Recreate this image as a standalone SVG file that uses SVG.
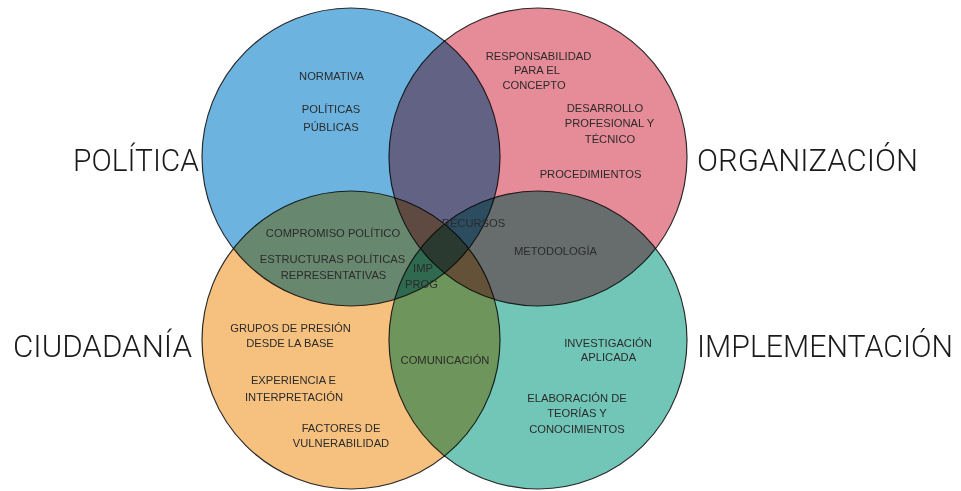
<svg xmlns="http://www.w3.org/2000/svg" width="961" height="491" viewBox="0 0 961 491">
  <style>
    .set { stroke: #2a2a2a; stroke-width: 1.2; mix-blend-mode: multiply; }
    .big { font-family: Roboto, "Liberation Sans", Arial, sans-serif; font-weight: 300; font-size: 31px; fill: #1a1a1a; }
    .item { font-family: "Liberation Sans", Arial, sans-serif; font-size: 11.2px; fill: #2b2b2b; text-anchor: middle; }
  </style>
  <rect width="961" height="491" fill="#ffffff"/>

  <!-- Política -->
  <g id="politica">
    <circle class="set" cx="351" cy="157" r="149" fill="#6cb3df"/>
    <text class="big" x="73" y="171" textLength="126" lengthAdjust="spacingAndGlyphs">POLÍTICA</text>
    <text class="item" x="331.5" y="80">NORMATIVA</text>
    <text class="item" x="331" y="113">POLÍTICAS</text>
    <text class="item" x="331" y="131">PÚBLICAS</text>
  </g>

  <!-- Organización -->
  <g id="organizacion">
    <circle class="set" cx="538" cy="157" r="149" fill="#e68b98"/>
    <text class="big" x="697" y="171" textLength="221" lengthAdjust="spacingAndGlyphs">ORGANIZACIÓN</text>
    <text class="item" x="538.5" y="60">RESPONSABILIDAD</text>
    <text class="item" x="537" y="74">PARA EL</text>
    <text class="item" x="534" y="89">CONCEPTO</text>
    <text class="item" x="605" y="112">DESARROLLO</text>
    <text class="item" x="609.5" y="127">PROFESIONAL Y</text>
    <text class="item" x="610" y="143">TÉCNICO</text>
    <text class="item" x="590.5" y="178">PROCEDIMIENTOS</text>
  </g>

  <!-- Ciudadanía -->
  <g id="ciudadania">
    <circle class="set" cx="351" cy="340" r="149" fill="#f6c07f"/>
    <text class="big" x="13" y="357" textLength="179" lengthAdjust="spacingAndGlyphs">CIUDADANÍA</text>
    <text class="item" x="290.5" y="332">GRUPOS DE PRESIÓN</text>
    <text class="item" x="290" y="347">DESDE LA BASE</text>
    <text class="item" x="293.5" y="384">EXPERIENCIA E</text>
    <text class="item" x="294" y="401">INTERPRETACIÓN</text>
    <text class="item" x="341" y="432">FACTORES DE</text>
    <text class="item" x="341" y="447">VULNERABILIDAD</text>
  </g>

  <!-- Implementación -->
  <g id="implementacion">
    <circle class="set" cx="538" cy="340" r="149" fill="#72c6b7"/>
    <text class="big" x="697" y="357" textLength="256" lengthAdjust="spacingAndGlyphs">IMPLEMENTACIÓN</text>
    <text class="item" x="608" y="347">INVESTIGACIÓN</text>
    <text class="item" x="608.5" y="361">APLICADA</text>
    <text class="item" x="577" y="402">ELABORACIÓN DE</text>
    <text class="item" x="577" y="417">TEORÍAS Y</text>
    <text class="item" x="577" y="433">CONOCIMIENTOS</text>
  </g>

  <!-- Labels of the shared regions -->
  <g id="intersecciones">
    <text class="item" x="333" y="237">COMPROMISO POLÍTICO</text>
    <text class="item" x="332.5" y="263">ESTRUCTURAS POLÍTICAS</text>
    <text class="item" x="333.5" y="279">REPRESENTATIVAS</text>
    <text class="item" x="423" y="272">IMP</text>
    <text class="item" x="421.5" y="288">PROG</text>
    <text class="item" x="473.5" y="227">RECURSOS</text>
    <text class="item" x="555.5" y="255">METODOLOGÍA</text>
    <text class="item" x="445" y="364">COMUNICACIÓN</text>
  </g>
</svg>
